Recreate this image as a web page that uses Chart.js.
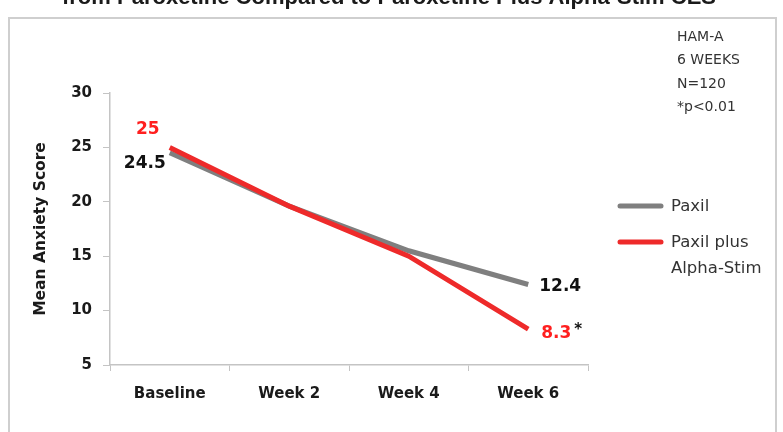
<!DOCTYPE html>
<html>
<head>
<meta charset="utf-8">
<script src="https://cdn.jsdelivr.net/npm/chart.js@4"></script>
<style>
  html, body { margin: 0; padding: 0; background: #fff; }
  #wrap { width: 783px; height: 432px; position: relative; }
</style>
</head>
<body>
<div id="wrap"><canvas id="myChart" width="783" height="432"></canvas></div>
<script>
// chart data
const categories = ["Baseline", "Week 2", "Week 4", "Week 6"];
const paxil = [24.5, 19.6, 15.5, 12.4];
const paxilPlus = [25, 19.6, 15.0, 8.3];
const yTicks = [5, 10, 15, 20, 25, 30];
const seriesNames = ["Paxil", ["Paxil plus", "Alpha-Stim"]];
const labelled = [0, 3];
const notes = ["HAM-A", "6 WEEKS", "N=120", "*p<0.01"];
const titleText = "from Paroxetine Compared to Paroxetine Plus Alpha-Stim CES";

const GRAY = "#7f7f7f";
const RED = "#ee2a2a";
const FONT = "'DejaVu Sans'";

// frame, title, notes, legend and point labels
const decor = {
    id: "decor",
    beforeDraw(chart) {
        const ctx = chart.ctx;
        ctx.save();
        ctx.fillStyle = "#fff";
        ctx.fillRect(0, 0, chart.width, chart.height);
        ctx.strokeStyle = "#cfcfcf";
        ctx.lineWidth = 2;
        ctx.strokeRect(9, 18, 767, 430);
        ctx.restore();
    },
    afterDraw(chart) {
        const ctx = chart.ctx;
        ctx.save();

        // cut-off title
        ctx.fillStyle = "#1a1a1a";
        ctx.font = "bold 22px 'Liberation Sans'";
        ctx.textAlign = "center";
        ctx.textBaseline = "alphabetic";
        ctx.fillText(titleText, 389, 4);

        // notes top right
        ctx.font = "14px " + FONT;
        ctx.textAlign = "left";
        ctx.textBaseline = "middle";
        ctx.fillStyle = "#333";
        notes.forEach((t, i) => ctx.fillText(t, 677, 37 + i * 23.5));

        // legend
        const ds = chart.data.datasets;
        ctx.font = "16.5px " + FONT;
        ctx.lineCap = "round";
        [206, 242].forEach((y, i) => {
            ctx.strokeStyle = ds[i].borderColor;
            ctx.lineWidth = 5;
            ctx.beginPath();
            ctx.moveTo(620, y);
            ctx.lineTo(661, y);
            ctx.stroke();
            ctx.fillStyle = "#333";
            [].concat(seriesNames[i]).forEach((t, j) => ctx.fillText(t, 671, y + 1 + j * 26));
        });

        // point labels
        ctx.font = "bold 17px " + FONT;
        const m0 = chart.getDatasetMeta(0).data;
        const m1 = chart.getDatasetMeta(1).data;
        const a = labelled[0], b = labelled[1];
        ctx.fillStyle = "#111";
        ctx.textAlign = "right";
        ctx.fillText(String(paxil[a]), m0[a].x - 4, m0[a].y + 11);
        ctx.textAlign = "left";
        ctx.fillText(String(paxil[b]), m0[b].x + 11, m0[b].y + 2);
        ctx.fillStyle = "#ff1f1f";
        ctx.textAlign = "center";
        ctx.fillText(String(paxilPlus[a]), m1[a].x - 22, m1[a].y - 18);
        ctx.textAlign = "left";
        ctx.fillText(String(paxilPlus[b]), m1[b].x + 13, m1[b].y + 4);
        const w = ctx.measureText(String(paxilPlus[b])).width;
        ctx.fillStyle = "#111";
        ctx.font = "bold 15px " + FONT;
        ctx.fillText("*", m1[b].x + 13 + w + 3, m1[b].y + 1);

        ctx.restore();
    }
};

const ctx = document.getElementById("myChart").getContext("2d");
const myChart = new Chart(ctx, {
    type: "line",
    data: {
        labels: categories,
        datasets: [
            {
                label: "Paxil",
                data: paxil,
                borderColor: GRAY,
                borderWidth: 5,
                order: 2
            },
            {
                label: "Paxil plus Alpha-Stim",
                data: paxilPlus,
                borderColor: RED,
                borderWidth: 5,
                order: 1
            }
        ]
    },
    options: {
        responsive: false,
        animation: false,
        layout: {
            padding: { top: 93, right: 195, bottom: 0, left: 0 }
        },
        elements: {
            line: { tension: 0, borderCapStyle: "butt", fill: false },
            point: { radius: 0, hoverRadius: 0 }
        },
        plugins: {
            legend: { display: false },
            tooltip: { enabled: false }
        },
        scales: {
            x: {
                offset: true,
                afterFit: s => { s.height = 67; },
                grid: {
                    offset: true,
                    drawOnChartArea: false,
                    color: "#c4c4c4",
                    tickLength: 6
                },
                border: { color: "#c4c4c4", width: 1.5 },
                ticks: {
                    color: "#1a1a1a",
                    padding: 14,
                    maxRotation: 0,
                    font: { family: "DejaVu Sans", size: 15, weight: "bold" }
                }
            },
            y: {
                min: 5,
                max: 30,
                afterFit: s => { s.width = 110; },
                afterBuildTicks: s => { s.ticks = yTicks.map(v => ({ value: v })); },
                grid: {
                    drawOnChartArea: false,
                    color: "#c4c4c4",
                    tickLength: 7
                },
                border: { color: "#c4c4c4", width: 1.5 },
                ticks: {
                    color: "#1a1a1a",
                    padding: 11,
                    font: { family: "DejaVu Sans", size: 15, weight: "bold" }
                },
                title: {
                    display: true,
                    text: "Mean Anxiety Score",
                    color: "#1a1a1a",
                    padding: { top: 32 },
                    font: { family: "DejaVu Sans", size: 15.5, weight: "bold" }
                }
            }
        }
    },
    plugins: [decor]
});
</script>
</body>
</html>
